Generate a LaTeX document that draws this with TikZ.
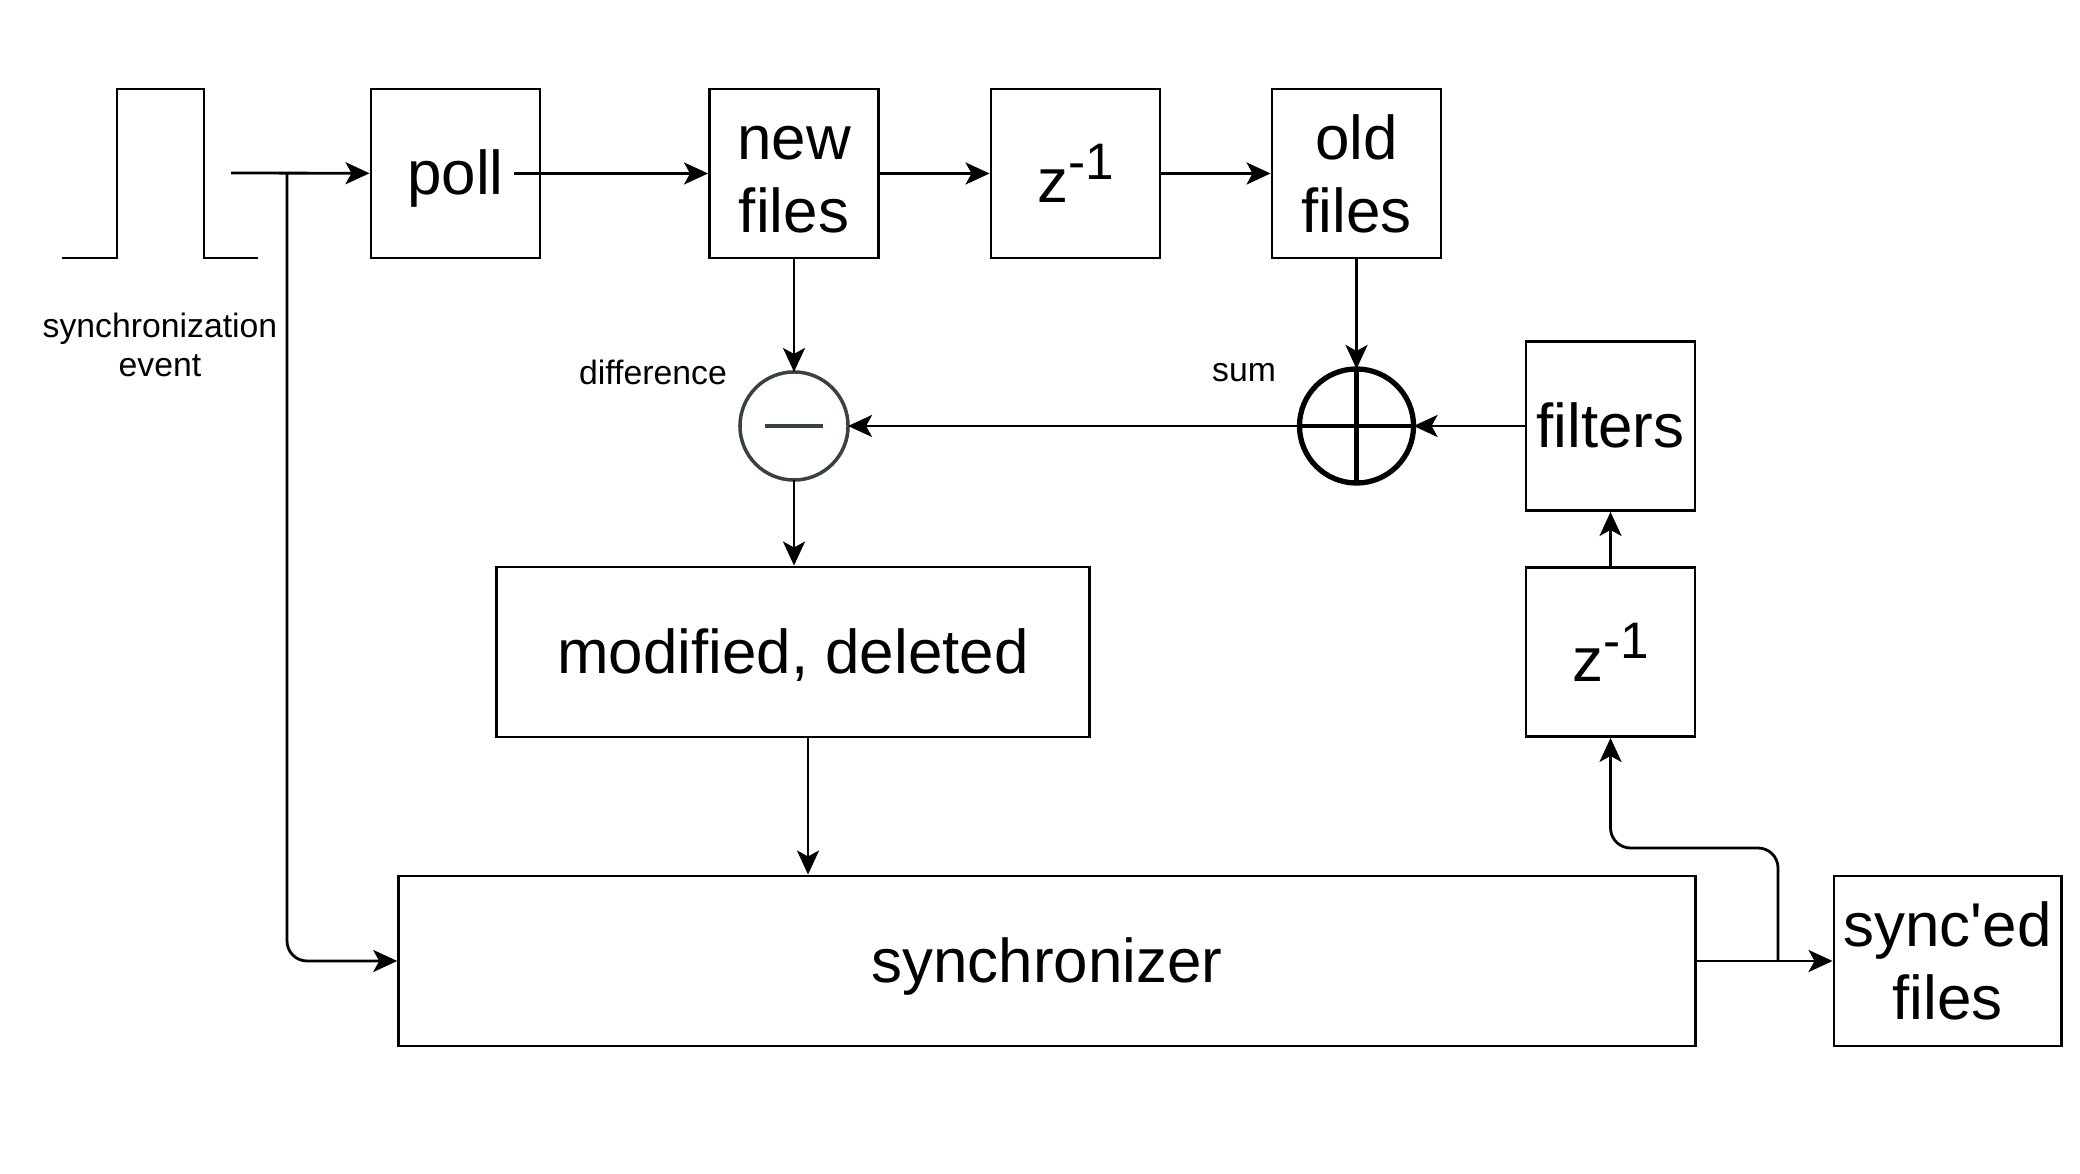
\documentclass[tikz,border=0pt]{standalone}
\usepackage{fontspec}
\setmainfont{Liberation Sans}
\usetikzlibrary{arrows.meta,calc}

\definecolor{dgrey}{RGB}{58,64,72}
\newcommand{\zinv}{z\raisebox{0.37em}{\fontsize{14.6}{14}\selectfont -1}}
\newcommand{\st}{\rule[-0.207em]{0pt}{1.107em}}

\begin{document}
\begin{tikzpicture}[x=0.01cm,y=-0.01cm,line width=0.8pt,
    blk/.style={draw,minimum width=1.69cm,minimum height=1.69cm,inner sep=0pt,align=center,font=\fontsize{17.6}{20.8}\selectfont},
    tblk/.style={blk,execute at begin node=\st},
    lbl/.style={align=center,font=\fontsize{9.6}{11.1}\selectfont},
    arr/.style={-{Stealth[length=0.24cm,width=0.22cm,inset=0.06cm]}}]
  \useasboundingbox (0,0) rectangle (2080,1174);
  % pulse
  \coordinate (A) at (62,258);
  \coordinate (AB) at (258,258);
  \draw (A) -- (117,258) -- (117,89) -- (204,89) -- (204,258) -- (AB);
  \node[lbl] (E) at (160,345) {synchronization\\event};
  \coordinate (B) at (231,173);
  \coordinate (BB) at (287,173);
  % top row
  \node[tblk] (P) at (455.5,173.5) {poll};
  \node[blk] (N) at (794,173.5) {\vphantom{l}new\\files};
  \node[blk] (Z) at (1075.5,173.5) {\zinv};
  \node[blk] (O) at (1356.5,173.5) {old\\files};
  % difference and sum
  \node[circle,draw=dgrey,line width=1pt,minimum size=1.08cm,outer sep=0pt] (D) at (794,426) {};
  \draw[dgrey,line width=1pt] (D.center) +(-29,0) -- +(29,0);
  \node[lbl] (DL) at (653,372) {difference};
  \node[circle,draw,line width=1.5pt,minimum size=1.14cm,outer sep=0pt] (S) at (1356.5,426) {};
  \draw[line width=1.4pt] (S.north) -- (S.south);
  \draw[line width=1.4pt] (S.west) -- (S.east);
  \node[lbl] (SL) at (1244,373) {sum};
  % right column
  \node[tblk] (F) at (1610.5,426) {filters};
  \node[blk] (ZF) at (1610.5,652) {\zinv};
  % bottom
  \node[tblk,minimum width=5.92cm,minimum height=1.70cm] (M) at (793,652) {modified, deleted};
  \node[tblk,minimum width=12.96cm,minimum height=1.70cm] (Y) at (1047,961) {synchronizer};
  \node[blk,minimum width=2.27cm,minimum height=1.70cm] (YF) at (1947.5,961) {sync\textquotesingle ed\\files};
  \coordinate (T) at (1778,961);
  \coordinate (TU) at (1778,848);
  % connectors
  \draw[arr] (B) -- (P);
  \draw[arr] ([xshift=-0.27cm]P.east) -- (N);
  \draw[arr] (N) -- (Z);
  \draw[arr] (Z) -- (O);
  \draw[arr] (N) -- (D);
  \draw[arr] (O) -- (S);
  \draw[arr] (F) -- (S);
  \draw[arr] (S) -- (D);
  \draw[arr] (D) -- (D |- M.north);
  \draw[arr] ([xshift=0.15cm]M.south) -- ([xshift=0.15cm]M.south |- Y.north);
  \draw[arr,rounded corners=0.2cm] (BB) |- (Y);
  \draw[arr] (ZF) -- (F);
  \draw[arr] (Y) -- (YF);
  \draw[arr,rounded corners=0.2cm] (T) -- (TU) -| (ZF);
\end{tikzpicture}
\end{document}
